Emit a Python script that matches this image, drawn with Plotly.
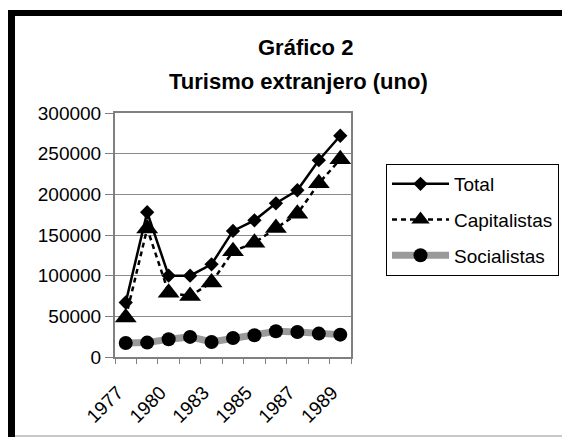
import plotly.graph_objects as go

years = ['1977', '1978', '1980', '1981', '1983', '1984', '1985', '1986', '1987', '1988', '1989']
shown_years = ['1977', '1980', '1983', '1985', '1987', '1989']
total = [67000, 178000, 100000, 100000, 114000, 155000, 168000, 189000, 205000, 242000, 272000]
capitalistas = [48500, 158000, 79000, 75000, 91500, 130000, 140500, 158500, 176000, 213500, 243000]
socialistas = [17300, 17700, 21800, 24700, 18500, 23400, 26700, 31600, 30800, 28800, 27500]

W, H = 570, 437
OFF = 8  # page body margin, positions below are measured on screen
ML, MR, MT, MB = 115 - OFF, 219 + OFF, 113 - OFF, 80 + OFF
PW, PH = W - ML - MR, H - MT - MB


def px(x):
    return (x - OFF - ML) / PW


def py(y):
    return (H - MB - (y - OFF)) / PH


FONT = 'Liberation Sans, Arial, sans-serif'
xs = list(range(len(years)))

fig = go.Figure()

fig.add_trace(go.Scatter(
    x=xs, y=total, name='Total', mode='lines+markers', legendgroup='a',
    line=dict(color='black', width=2.5),
    marker=dict(symbol='diamond', size=11, color='black')))

fig.add_trace(go.Scatter(
    x=xs, y=capitalistas, name='Capitalistas', mode='lines+markers', legendgroup='b',
    line=dict(color='black', width=2.5, dash='5px,4px'),
    marker=dict(symbol='triangle-up', size=19, color='black')))

fig.add_trace(go.Scatter(
    x=xs, y=socialistas, name='Socialistas', mode='lines+markers', legendgroup='c',
    line=dict(color='#9a9a9a', width=7),
    marker=dict(symbol='circle', size=14, color='black')))

# black frame like the scanned chart
fig.add_shape(type='line', xref='paper', yref='paper',
              x0=px(8), x1=px(580), y0=py(13), y1=py(13),
              line=dict(color='black', width=6))
fig.add_shape(type='line', xref='paper', yref='paper',
              x0=px(11.5), x1=px(11.5), y0=py(10), y1=py(450),
              line=dict(color='black', width=7))
fig.add_shape(type='line', xref='paper', yref='paper',
              x0=px(15), x1=px(580), y0=py(436), y1=py(436),
              line=dict(color='#c8c8c8', width=2))

fig.add_annotation(text='<b>Gráfico 2</b>', xref='paper', yref='paper',
                   x=px(305), y=py(47), xanchor='center', yanchor='middle',
                   showarrow=False, font=dict(family=FONT, size=22, color='black'))
fig.add_annotation(text='<b>Turismo extranjero (uno)</b>', xref='paper', yref='paper',
                   x=px(298), y=py(81), xanchor='center', yanchor='middle',
                   showarrow=False, font=dict(family=FONT, size=22, color='black'))

fig.update_layout(
    width=W, height=H,
    margin=dict(l=ML, r=MR, t=MT, b=MB),
    paper_bgcolor='white', plot_bgcolor='white',
    font=dict(family=FONT, color='black', size=19),
    showlegend=True,
    legend=dict(x=px(386), y=py(164), xanchor='left', yanchor='top',
                font=dict(family=FONT, size=19, color='black'),
                bordercolor='black', borderwidth=1, bgcolor='white',
                traceorder='grouped', tracegroupgap=8, itemwidth=57),
    xaxis=dict(range=[-0.5, len(years) - 0.5],
               tickvals=[years.index(y) for y in shown_years],
               ticktext=shown_years, tickangle=-45, ticks='',
               ticklabelshift=-8, ticklabelstandoff=15,
               tickfont=dict(family=FONT, size=19, color='black'),
               minor=dict(tickvals=[i - 0.5 for i in range(len(years) + 1)],
                          ticks='outside', ticklen=5, tickcolor='#808080',
                          tickwidth=1, showgrid=False),
               showgrid=False, zeroline=False,
               showline=True, linecolor='#808080', linewidth=2, mirror=True),
    yaxis=dict(range=[0, 300000], dtick=50000, tickformat='d',
               ticks='outside', ticklen=8, tickcolor='#808080', tickwidth=1,
               tickfont=dict(family=FONT, size=19, color='black'),
               showgrid=True, gridcolor='#8a8a8a', gridwidth=1, zeroline=False,
               showline=True, linecolor='#808080', linewidth=2, mirror=True),
)

fig.write_html('out.html')
